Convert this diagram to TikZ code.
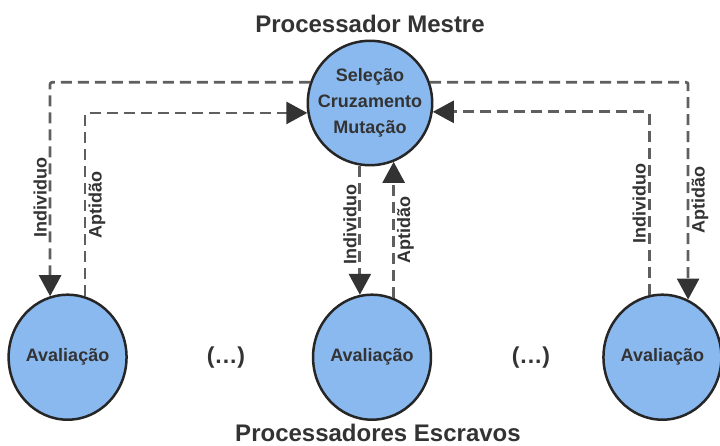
\documentclass[tikz,border=0pt]{standalone}
\usepackage{fontspec}
\setmainfont{Liberation Sans}
\usetikzlibrary{arrows.meta,positioning,calc,shapes.geometric}
\definecolor{procblue}{RGB}{138,185,240}
\definecolor{linegray}{RGB}{95,95,95}
\definecolor{textgray}{RGB}{51,51,51}

\begin{document}
\begin{tikzpicture}[
        x=1pt, y=-1pt,
        font=\bfseries\fontsize{18}{26}\selectfont,
        text=textgray,
        proc/.style={draw=black!85, fill=procblue, line width=2.5pt, circle, minimum size=124pt, inner sep=0pt, align=center},
        slave/.style={draw=black!85, fill=procblue, line width=2.5pt, ellipse, minimum width=115pt, minimum height=125pt, inner sep=0pt},
        title/.style={inner sep=0pt, font=\bfseries\fontsize{24}{26}\selectfont},
        dots/.style={font=\bfseries\fontsize{23}{26}\selectfont\addfontfeature{LetterSpace=4}},
        lbl/.style={rotate=90, inner sep=2pt},
        line/.style={dash pattern=on 11pt off 6pt, line width=2.8pt, draw=linegray, rounded corners=2pt,
            -{Triangle[length=21pt, width=22pt, color=black!80]}},
    ]
        \useasboundingbox (0,0) rectangle (720,446);

        % --- master and slaves ---
        \node[proc] (mestre) at (370,103) {Seleção\\Cruzamento\\Mutação};
        \node[slave, below=127pt of mestre, xshift=2pt] (esc2) {Avaliação};
        \node[slave, left=184pt of esc2] (esc1) {Avaliação};
        \node[slave, right=170pt of esc2] (esc3) {Avaliação};

        \node[dots] (dots1) at (226,358) {(...)};
        \node[dots] (dots2) at (531,358) {(...)};

        \node[title, above=7pt of mestre] (tmestre) {Processador Mestre};
        \node[title, below=3pt of esc2, xshift=6pt] (tescravos) {Processadores Escravos};

        % left slave
        \draw[line] (mestre.161) -| node[lbl, pos=.77, anchor=south] {Individuo} (esc1.106);
        \draw[line] (esc1.74) |- node[lbl, pos=.25, anchor=north] {Aptidão} (mestre.189);

        % middle slave
        \draw[line] (esc2.101 |- mestre.south) -- node[lbl, pos=.45, anchor=south] {Individuo} (esc2.101);
        \draw[line] (esc2.70) -- node[lbl, anchor=north] {Aptidão} (esc2.70 |- mestre.292);

        % right slave
        \draw[line] (mestre.19) -| node[lbl, pos=.77, anchor=north] {Aptidão} (esc3.66);
        \draw[line] (esc3.102) |- node[lbl, pos=.25, anchor=south] {Individuo} (mestre.352);

\end{tikzpicture}
\end{document}
